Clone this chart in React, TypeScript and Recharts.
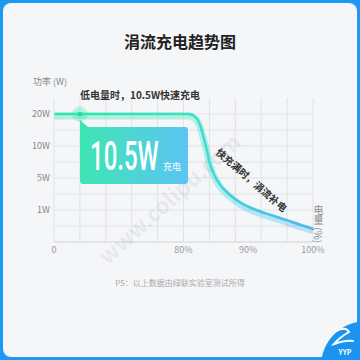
import { CartesianGrid, Line, LineChart, ReferenceDot, XAxis, YAxis } from "recharts";

// battery level (%) vs charging power (W)
const batteryPct = [0, 80.8, 82.0, 82.6, 83.1, 83.6, 84.0, 84.7, 85.7, 87.0, 88.8, 91.2, 93.5, 95.8, 98.1, 100];
const powerW = [20, 20, 18.75, 16.25, 12.7, 9.4, 7.5, 5.6, 4.1, 3.0, 1.9, 1.0, 0.84, 0.69, 0.53, 0.41];

// axis ticks (the source chart uses a broken, non-linear scale)
const xTickPct = [0, 80, 90, 100];
const xTickLabels = ["0", "80%", "90%", "100%"];
const yTickW = [1, 5, 10, 20];
const yTickLabels = ["1W", "5W", "10W", "20W"];

// piecewise scale break points
const xBreakPct = [0, 80, 90, 100];
const xBreakPos = [0, 5, 7.5, 10];
const yBreakW = [0, 1, 5, 10, 20];
const yBreakPos = [0, 2, 4, 6, 8];

const markerPct = 16;
const markerW = 20;

const FONT = '"Noto Sans CJK SC", "Noto Sans", sans-serif';

function interp(v: number, from: number[], to: number[]) {
  for (let i = 1; i < from.length; i++) {
    if (v <= from[i]) {
      const t = (v - from[i - 1]) / (from[i] - from[i - 1]);
      return to[i - 1] + t * (to[i] - to[i - 1]);
    }
  }
  return to[to.length - 1];
}
const toX = (p: number) => interp(p, xBreakPct, xBreakPos);
const toY = (w: number) => interp(w, yBreakW, yBreakPos);

const data = batteryPct.map((p, i) => ({ x: toX(p), y: toY(powerW[i]) }));
const xTicks = xTickPct.map(toX);
const yTicks = yTickW.map(toY);
const gridX = [1, 2, 3, 4, 5, 6, 7, 8, 9, 10];
const gridY = [1, 2, 3, 4, 5, 6, 7, 8];

const labelFor = (ticks: number[], labels: string[]) => (v: number) => {
  const i = ticks.findIndex((t) => Math.abs(t - v) < 1e-6);
  return i >= 0 ? labels[i] : "";
};

function Marker(props: { cx?: number; cy?: number }) {
  const { cx = 0, cy = 0 } = props;
  return (
    <g>
      <circle cx={cx} cy={cy} r={7} fill="#3ee8b4" fillOpacity={0.15} stroke="#3ee8b4" strokeOpacity={0.5} />
      <circle cx={cx} cy={cy} r={4.5} fill="none" stroke="#3ee8b4" strokeOpacity={0.7} />
      <circle cx={cx} cy={cy} r={2.5} fill="#22dca0" />
    </g>
  );
}

export default function App() {
  return (
    <div
      style={{
        position: "absolute",
        left: 0,
        top: 0,
        width: 360,
        height: 360,
        background: "#1e98f2",
        fontFamily: FONT,
      }}
    >
      <style>{`.band { transform: translateY(2px); }`}</style>
      <div
        style={{
          position: "absolute",
          left: 3,
          top: 3,
          width: 354,
          height: 354,
          borderRadius: 8,
          background: "#f5f6f8",
          overflow: "hidden",
        }}
      />
      <div
        style={{
          position: "absolute",
          left: 0,
          top: 31,
          width: 360,
          textAlign: "center",
          fontSize: 16,
          lineHeight: "20px",
          fontWeight: 700,
          color: "#222",
        }}
      >
        涓流充电趋势图
      </div>
      <div style={{ position: "absolute", left: 33, top: 76, fontSize: 9, lineHeight: "12px", color: "#888" }}>
        功率 (W)
      </div>

      <div style={{ position: "absolute", left: 0, top: 0 }}>
        <LineChart width={360} height={360} data={data} margin={{ top: 98, right: 47, bottom: 98, left: 0 }}>
          <defs>
            <linearGradient id="lineGrad" x1="0" y1="0" x2="1" y2="0">
              <stop offset="0%" stopColor="#30e4ac" />
              <stop offset="52%" stopColor="#36e4bc" />
              <stop offset="60%" stopColor="#3cdcd4" />
              <stop offset="75%" stopColor="#40c8e6" />
              <stop offset="100%" stopColor="#4cb8ea" />
            </linearGradient>
          </defs>
          <CartesianGrid stroke="#dfe2e6" horizontalValues={gridY} verticalValues={gridX} />
          <XAxis
            type="number"
            dataKey="x"
            domain={[0, 10]}
            ticks={xTicks}
            tickFormatter={labelFor(xTicks, xTickLabels)}
            height={20}
            tickSize={0}
            tickMargin={5}
            axisLine={{ stroke: "#cfd3d8" }}
            tick={{ fontSize: 9, fill: "#999", fontFamily: FONT }}
            interval={0}
          />
          <YAxis
            type="number"
            domain={[0, 9]}
            ticks={yTicks}
            tickFormatter={labelFor(yTicks, yTickLabels)}
            width={54}
            tickSize={0}
            tickMargin={4}
            axisLine={{ stroke: "#dfe2e6" }}
            tick={{ fontSize: 9, fill: "#888", fontFamily: FONT }}
            interval={0}
          />
          <Line
            className="band"
            type="monotone"
            dataKey="y"
            stroke="url(#lineGrad)"
            strokeOpacity={0.35}
            strokeWidth={7}
            dot={false}
            isAnimationActive={false}
          />
          <Line
            type="monotone"
            dataKey="y"
            stroke="url(#lineGrad)"
            strokeWidth={2.5}
            dot={false}
            isAnimationActive={false}
          />
          <ReferenceDot x={toX(markerPct)} y={toY(markerW)} shape={<Marker />} />
        </LineChart>
      </div>

      <svg
        width={360}
        height={360}
        style={{ position: "absolute", left: 0, top: 0, pointerEvents: "none" }}
        fontFamily={FONT}
      >
        <defs>
          <linearGradient id="cardGrad" x1="0" y1="0" x2="1" y2="0">
            <stop offset="0%" stopColor="#3ee6b2" />
            <stop offset="100%" stopColor="#5cc4f4" />
          </linearGradient>
        </defs>
        <text
          x={175}
          y={205}
          fontSize={22}
          fontWeight={700}
          fill="#9aa0a8"
          fillOpacity={0.16}
          textAnchor="middle"
          transform="rotate(-42 175 205)"
        >
          www.colipu.com
        </text>
        <path
          d="M80,120 L88,127 L185,127 Q188,127 188,130 L188,181 Q188,184 185,184 L83,184 Q80,184 80,181 Z"
          fill="url(#cardGrad)"
        />
        <text
          x={0}
          y={0}
          fontSize={40}
          fontFamily="Roboto"
          fontWeight={500}
          fill="#fff"
          transform="translate(90 170) scale(0.6 1)"
        >
          10.5W
        </text>
        <text x={163} y={170} fontSize={9} fill="#fff">
          充电
        </text>
        <text x={80} y={99} fontSize={10} fontWeight={700} fill="#333">
          低电量时，10.5W快速充电
        </text>
        <text
          x={249}
          y={183}
          fontSize={10}
          fontWeight={700}
          fill="#333"
          textAnchor="middle"
          transform="rotate(41 249 183)"
        >
          快充满时，涓流补电
        </text>
        <text x={180} y={286} fontSize={8} fill="#aaa" textAnchor="middle">
          PS：以上数据由绿联实验室测试所得
        </text>
        <circle cx={366} cy={366} r={45} fill="#1a94f0" />
        <path
          d="M336,331 Q346,326 349,332 Q340,337 334,344 Q346,340 353,341"
          fill="none"
          stroke="#fff"
          strokeWidth={2}
          strokeLinecap="round"
        />
        <text x={345} y={355} fontSize={7} fontWeight={700} fill="#fff" textAnchor="middle">
          YYP
        </text>
      </svg>

      <div
        style={{
          position: "absolute",
          left: 313,
          top: 205,
          writingMode: "vertical-rl",
          fontSize: 10,
          lineHeight: "11px",
          color: "#888",
        }}
      >
        电量 (%)
      </div>
    </div>
  );
}
